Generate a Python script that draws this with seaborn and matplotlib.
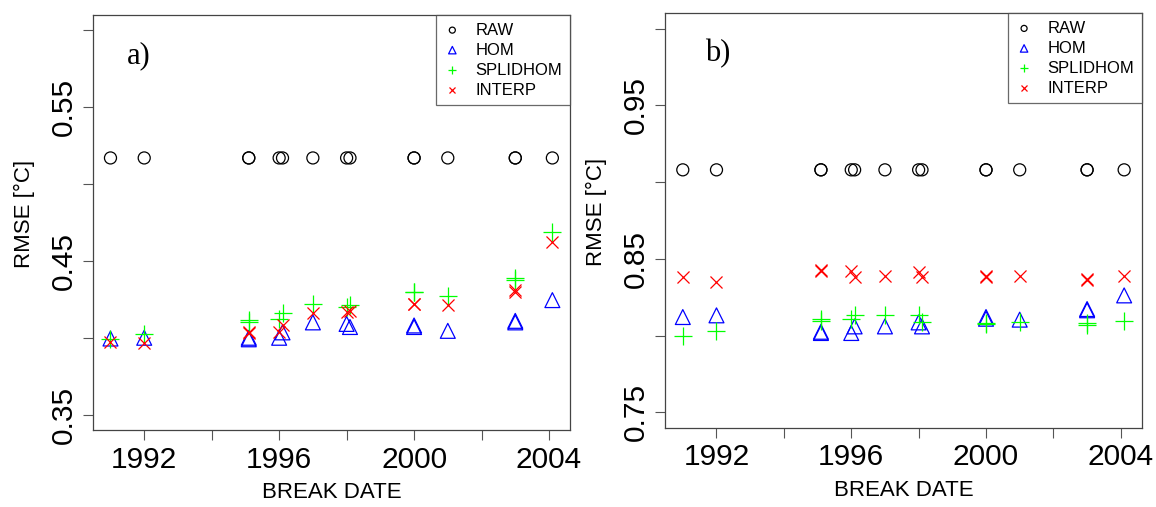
import matplotlib
matplotlib.use('Agg')
import pandas as pd
import numpy as np
import matplotlib.pyplot as plt
import seaborn as sns

# break dates (shared by both panels)
dates = [1991.0, 1992.0, 1995.1, 1995.1, 1996.0, 1996.1, 1997.0, 1998.0, 1998.1,
         2000.0, 2000.0, 2001.0, 2003.0, 2003.0, 2004.1]

# panel a)
raw_a = [0.517, 0.517, 0.517, 0.517, 0.517, 0.517, 0.517, 0.517, 0.517,
         0.517, 0.517, 0.517, 0.517, 0.517, 0.517]
hom_a = [0.3995, 0.4000, 0.3990, 0.4000, 0.4000, 0.4035, 0.4100, 0.4090, 0.4070,
         0.4070, 0.4080, 0.4045, 0.4110, 0.4100, 0.4245]
splid_a = [0.3990, 0.4023, 0.4115, 0.4100, 0.4120, 0.4158, 0.4220, 0.4197, 0.4212,
           0.4300, 0.4300, 0.4271, 0.4390, 0.4375, 0.4687]
interp_a = [0.3975, 0.3968, 0.4030, 0.4040, 0.4038, 0.4082, 0.4158, 0.4169, 0.4172,
            0.4219, 0.4219, 0.4212, 0.4300, 0.4310, 0.4626]

# panel b)
raw_b = [0.908, 0.908, 0.908, 0.908, 0.908, 0.908, 0.908, 0.908, 0.908,
         0.908, 0.908, 0.908, 0.908, 0.908, 0.908]
hom_b = [0.8121, 0.8132, 0.8017, 0.8025, 0.8017, 0.8060, 0.8060, 0.8086, 0.8060,
         0.8121, 0.8110, 0.8104, 0.8173, 0.8165, 0.8262]
splid_b = [0.7995, 0.8027, 0.8108, 0.8095, 0.8108, 0.8132, 0.8132, 0.8132, 0.8086,
           0.8075, 0.8080, 0.8086, 0.8082, 0.8072, 0.8097]
interp_b = [0.8381, 0.8349, 0.8429, 0.8420, 0.8423, 0.8381, 0.8390, 0.8412, 0.8380,
            0.8390, 0.8385, 0.8390, 0.8368, 0.8360, 0.8390]

series = ['RAW', 'HOM', 'SPLIDHOM', 'INTERP']
colors = {'RAW': 'black', 'HOM': '#0000FF', 'SPLIDHOM': '#00FF00', 'INTERP': '#FF0000'}
markers = {'RAW': 'o', 'HOM': '^', 'SPLIDHOM': '+', 'INTERP': 'x'}
msizes = {'RAW': 75, 'HOM': 115, 'SPLIDHOM': 150, 'INTERP': 75}

sns.set_theme(style='ticks', rc={'text.color': 'black', 'axes.labelcolor': 'black',
                                 'xtick.color': '#555555', 'ytick.color': '#555555'})
plt.rcParams['font.family'] = ['Liberation Sans', 'DejaVu Sans']


def panel(ax, vals, ylim, yticks, ylabels, tag, tagx):
    df = pd.DataFrame({'date': dates, **vals})
    for name in series:
        kw = dict(marker=markers[name], s=msizes[name], linewidth=0.9, label=name,
                  ax=ax, color=colors[name], zorder=3)
        if markers[name] in ('o', '^'):
            kw.update(facecolor='none', edgecolor=colors[name])
        sns.scatterplot(data=df, x='date', y=name, **kw)

    ax.set_xlim(1990.48, 2004.62)
    ax.set_ylim(*ylim)
    xt = [1992, 1994, 1996, 1998, 2000, 2002, 2004]
    ax.set_xticks(xt)
    ax.set_xticklabels(['1992', '', '1996', '', '2000', '', '2004'])
    ax.set_yticks(yticks)
    ax.set_yticklabels(ylabels)
    plt.setp(ax.get_yticklabels(), rotation=90, va='center')
    ax.tick_params(axis='both', direction='out', length=7.2, width=0.8,
                   color='#555555', labelsize=21.5, pad=4, labelcolor='black',
                   bottom=True, left=True)
    for sp in ax.spines.values():
        sp.set_visible(True)
        sp.set_color('#444444')
        sp.set_linewidth(0.9)

    ax.set_xlabel('BREAK DATE', fontsize=16, color='black')
    ax.set_ylabel('RMSE [°C]', fontsize=16, color='black')
    ax.xaxis.set_label_coords(0.5, -0.126)
    ax.yaxis.set_label_coords(-0.122, 0.52)

    ax.text(tagx, 0.902, tag, transform=ax.transAxes, ha='left', va='center',
            fontsize=22, family='Liberation Serif', color='black')

    leg = ax.legend(loc='upper right', borderaxespad=0, frameon=True, fancybox=False,
                    markerscale=0.5, prop={'family': 'Liberation Sans', 'size': 12},
                    handlelength=1.0, handletextpad=0.9, borderpad=0.45,
                    labelspacing=0.3, scatterpoints=1)
    leg.get_frame().set_edgecolor('#444444')
    leg.get_frame().set_linewidth(0.9)
    for t in leg.get_texts():
        t.set_color('black')


fig = plt.figure(figsize=(11.56, 5.07), dpi=100)
ax1 = fig.add_axes([0.0804, 0.1519, 0.4126, 0.8185])
ax2 = fig.add_axes([0.5755, 0.1564, 0.4121, 0.8174])

panel(ax1, {'RAW': raw_a, 'HOM': hom_a, 'SPLIDHOM': splid_a, 'INTERP': interp_a},
      (0.34, 0.61), [0.35, 0.40, 0.45, 0.50, 0.55, 0.60],
      ['0.35', '', '0.45', '', '0.55', ''], 'a)', 0.071)
panel(ax2, {'RAW': raw_b, 'HOM': hom_b, 'SPLIDHOM': splid_b, 'INTERP': interp_b},
      (0.74, 1.01), [0.75, 0.80, 0.85, 0.90, 0.95, 1.00],
      ['0.75', '', '0.85', '', '0.95', ''], 'b)', 0.084)

fig.savefig('out.png', dpi=100, facecolor='white')
